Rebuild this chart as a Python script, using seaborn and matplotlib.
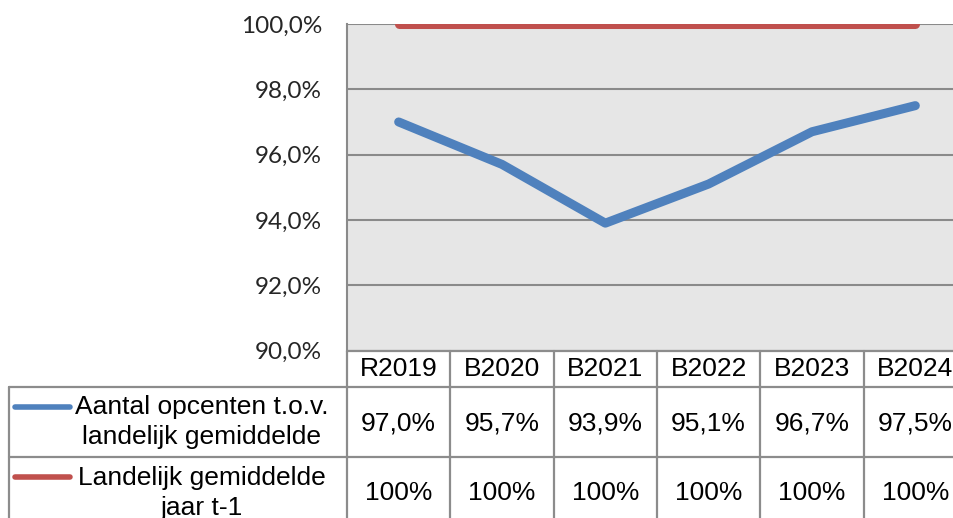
import pandas as pd
import numpy as np
import matplotlib
matplotlib.use('Agg')
import matplotlib.pyplot as plt
import seaborn as sns
from matplotlib.ticker import FuncFormatter, MultipleLocator
from matplotlib.transforms import blended_transform_factory

# data
jaren = ['R2019', 'B2020', 'B2021', 'B2022', 'B2023', 'B2024']
opcenten = [97.0, 95.7, 93.9, 95.1, 96.7, 97.5]
landelijk = [100.0, 100.0, 100.0, 100.0, 100.0, 100.0]
reeks_namen = ['Aantal opcenten t.o.v.\nlandelijk gemiddelde',
               'Landelijk gemiddelde\njaar t-1']
kleuren = ['#4f81bd', '#c0504d']

sns.set_style('white')
plt.rcParams['font.family'] = ['Lato', 'DejaVu Sans']

df = pd.DataFrame({
    'jaar': list(range(len(jaren))) * 2,
    'waarde': opcenten + landelijk,
    'reeks': [reeks_namen[0]] * len(jaren) + [reeks_namen[1]] * len(jaren),
})

W, H = 954, 518
fig = plt.figure(figsize=(W / 100, H / 100), dpi=100)
fig.patch.set_facecolor('white')

# plotvlak (loopt rechts buiten beeld door, zoals in het origineel)
x0, x1, y_top, y_bot = 347, 967, 24, 350.5
ax = fig.add_axes([x0 / W, (H - y_bot) / H, (x1 - x0) / W, (y_bot - y_top) / H])
ax.set_facecolor('#e6e6e6')

sns.lineplot(data=df, x='jaar', y='waarde', hue='reeks', palette=kleuren,
             linewidth=6.5, legend=False, ax=ax, solid_capstyle='round')

ax.set_xlim(-0.5, len(jaren) - 0.5)
ax.set_ylim(90, 100)
ax.yaxis.set_major_locator(MultipleLocator(2))
ax.yaxis.set_major_formatter(FuncFormatter(lambda v, p: f'{v:.1f}%'.replace('.', ',')))
ax.tick_params(axis='y', labelsize=17.5, length=0, pad=18)
ax.set_xticks([])
ax.set_xlabel('')
ax.set_ylabel('')
ax.grid(axis='y', color='#8a8a8a', linewidth=1.5)
ax.set_axisbelow(True)
for kant in ['top', 'right', 'bottom']:
    ax.spines[kant].set_visible(False)
ax.spines['left'].set_color('#8a8a8a')
ax.spines['left'].set_linewidth(1.5)

# gegevenstabel onder de grafiek
ov = fig.add_axes([0, 0, 1, 1], facecolor='none')
ov.set_xlim(0, W)
ov.set_ylim(H, 0)
ov.axis('off')
tr = blended_transform_factory(ax.transData, ov.transData)

lijn = dict(color='#8c8c8c', linewidth=1.6, clip_on=False)
tabel_font = dict(family=['Liberation Sans', 'DejaVu Sans'], fontsize=19, color='black')

rij_y = [350.5, 387, 457, 530]
ov.plot([x0, x1], [rij_y[0], rij_y[0]], **lijn)
for y in rij_y[1:3]:
    ov.plot([9, x1], [y, y], **lijn)
ov.plot([9, 9], [rij_y[1], rij_y[3]], **lijn)
for i in range(len(jaren) + 1):
    ov.plot([i - 0.5, i - 0.5], [rij_y[0], rij_y[3]], transform=tr, **lijn)

for i, jaar in enumerate(jaren):
    ov.text(i, 369, jaar, transform=tr, ha='center', va='center', **tabel_font)
    ov.text(i, 423, f'{opcenten[i]:.1f}%'.replace('.', ','), transform=tr,
            ha='center', va='center', **tabel_font)
    ov.text(i, 493, f'{landelijk[i]:.0f}%', transform=tr,
            ha='center', va='center', **tabel_font)

# legenda in de tabel
for naam, kleur, y_sleutel, y_tekst in zip(reeks_namen, kleuren, [407, 477], [422, 493]):
    ov.plot([15, 70], [y_sleutel, y_sleutel], color=kleur, linewidth=4,
            solid_capstyle='round')
    ov.text(202, y_tekst, naam, ha='center', va='center', linespacing=1.3,
            **tabel_font)

fig.savefig('out.png', dpi=100)
